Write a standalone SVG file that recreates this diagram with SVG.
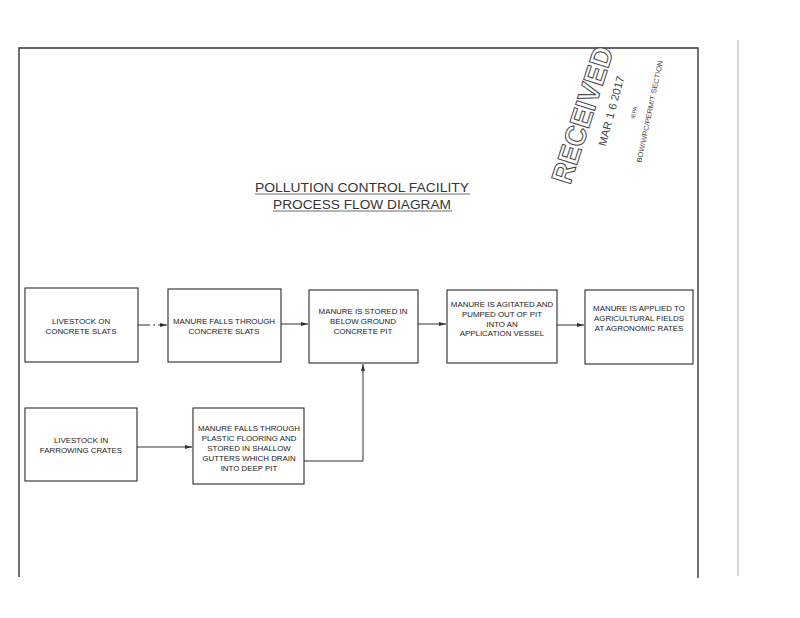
<svg xmlns="http://www.w3.org/2000/svg" width="800" height="618" viewBox="0 0 800 618">
<style>
.box{fill:none;stroke:#2a2a2a;stroke-width:1.1}
.t{font-family:"Liberation Sans",Arial,sans-serif;font-size:7.9px;fill:#222;text-anchor:middle}
.ttl{font-family:"Liberation Sans",Arial,sans-serif;font-size:12.5px;fill:#333;text-anchor:middle}
.c{fill:none;stroke:#333;stroke-width:1}
.frame{fill:none;stroke:#333}
</style>
<defs>
<marker id="ah" markerWidth="8" markerHeight="6" refX="7" refY="3" orient="auto" markerUnits="userSpaceOnUse">
<path d="M0,1 L7,3 L0,5 Z" fill="#333"/>
</marker>
</defs>
<rect width="800" height="618" fill="#fff"/>
<g id="frame">
<path class="frame" d="M19,577 V48 H698 V578" stroke-width="1.4"/>
<line x1="738" y1="40" x2="738" y2="576" stroke="#999" stroke-width="0.8"/>
</g>
<g id="stamp" font-family="'Liberation Sans',Arial,sans-serif" fill="#444">
<text x="0" y="0" transform="translate(592,118) rotate(-72)" font-size="29" font-weight="bold" fill="#fff" stroke="#444" stroke-width="1" text-anchor="middle" textLength="142" lengthAdjust="spacingAndGlyphs">RECEIVED</text>
<text x="0" y="0" transform="translate(615,112) rotate(-75)" font-size="11" text-anchor="middle" textLength="72" lengthAdjust="spacingAndGlyphs">MAR 1 6 2017</text>
<text x="0" y="0" transform="translate(636,113) rotate(-78)" font-size="5.5" text-anchor="middle">IEPA</text>
<text x="0" y="0" transform="translate(652,112) rotate(-78)" font-size="7" text-anchor="middle" textLength="104" lengthAdjust="spacingAndGlyphs">BOW/WPC/PERMIT SECTION</text>
</g>
<g id="title">
<text class="ttl" x="362" y="192" textLength="214" lengthAdjust="spacingAndGlyphs">POLLUTION CONTROL FACILITY</text>
<line x1="255" y1="194" x2="470" y2="194" stroke="#444" stroke-width="0.8"/>
<text class="ttl" x="362" y="209" textLength="178" lengthAdjust="spacingAndGlyphs">PROCESS FLOW DIAGRAM</text>
<line x1="273" y1="211" x2="452" y2="211" stroke="#444" stroke-width="0.8"/>
</g>
<g id="n1"><rect class="box" x="25" y="288" width="113" height="74"/>
<text class="t" x="81" y="324">LIVESTOCK ON</text><text class="t" x="81" y="334">CONCRETE SLATS</text></g>
<g id="n2"><rect class="box" x="168" y="289" width="113" height="73"/>
<text class="t" x="224" y="324">MANURE FALLS THROUGH</text><text class="t" x="224" y="334">CONCRETE SLATS</text></g>
<g id="n3"><rect class="box" x="309" y="290" width="109" height="73"/>
<text class="t" x="363" y="314">MANURE IS STORED IN</text><text class="t" x="363" y="324">BELOW GROUND</text><text class="t" x="363" y="334">CONCRETE PIT</text></g>
<g id="n4"><rect class="box" x="447" y="290" width="110" height="73"/>
<text class="t" x="502" y="307">MANURE IS AGITATED AND</text><text class="t" x="502" y="317">PUMPED OUT OF PIT</text><text class="t" x="502" y="327">INTO AN</text><text class="t" x="502" y="336">APPLICATION VESSEL</text></g>
<g id="n5"><rect class="box" x="585" y="290" width="108" height="74"/>
<text class="t" x="639" y="311">MANURE IS APPLIED TO</text><text class="t" x="639" y="321">AGRICULTURAL FIELDS</text><text class="t" x="639" y="331">AT AGRONOMIC RATES</text></g>
<g id="n6"><rect class="box" x="25" y="408" width="112" height="73"/>
<text class="t" x="81" y="443">LIVESTOCK IN</text><text class="t" x="81" y="453">FARROWING CRATES</text></g>
<g id="n7"><rect class="box" x="193" y="408" width="111" height="76"/>
<text class="t" x="249" y="431">MANURE FALLS THROUGH</text><text class="t" x="249" y="441">PLASTIC FLOORING AND</text><text class="t" x="249" y="451">STORED IN SHALLOW</text><text class="t" x="249" y="461">GUTTERS WHICH DRAIN</text><text class="t" x="249" y="471">INTO DEEP PIT</text></g>
<g id="connectors">
<path class="c" d="M138,325 H167" stroke-dasharray="12,3,2,3" marker-end="url(#ah)"/>
<path class="c" d="M281,324 H308" marker-end="url(#ah)"/>
<path class="c" d="M418,324 H446" marker-end="url(#ah)"/>
<path class="c" d="M557,325 H584" marker-end="url(#ah)"/>
<path class="c" d="M137,447 H192" marker-end="url(#ah)"/>
<path class="c" d="M304,461 H363 V364" marker-end="url(#ah)"/>
</g>
</svg>
